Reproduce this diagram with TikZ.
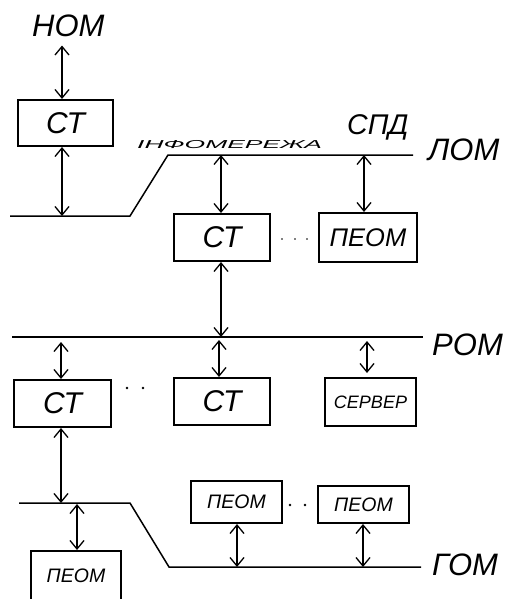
\documentclass[tikz,border=0pt]{standalone}
\usepackage{fontspec}
\setmainfont{Liberation Sans}
\usetikzlibrary{arrows.meta}

\newcommand{\fsz}[1]{\fontsize{#1}{#1}\selectfont}

\begin{document}
\begin{tikzpicture}[
    x=1pt, y=-1pt,
    >={Straight Barb[length=8.5pt,width=14pt]},
    font=\itshape,
    box/.style={draw, line width=2pt, inner sep=0pt},
    bus/.style={line width=1.5pt},
    link/.style={<->, line width=1.3pt},
    lbl/.style={inner sep=0pt, anchor=base west, font=\itshape\fsz{31}}
]
    \useasboundingbox (0,0) rectangle (507,599);

    % Network labels
    \node[lbl] (hom) at (32,37) {НОМ};
    \node[lbl] (lom) at (428,160) {ЛОМ};
    \node[lbl] (rom) at (432,355) {РОМ};
    \node[lbl] (gom) at (432,575) {ГОМ};
    \node[lbl, font=\itshape\fsz{28.5}] (spd) at (347,135) {СПД};
    \node[inner sep=0pt, anchor=base west] (inf) at (137,148)
        {\scalebox{2.3}[1]{\fsz{11.5}ІНФОМЕРЕЖА}};

    % Buses
    \draw[bus] (10,216) -- (130,216) -- (168,155) -- (413,155);
    \draw[bus] (12,337) -- (423,337);
    \draw[bus] (19,503) -- (130,503) -- (169,567) -- (421,567);

    % Bus taps
    \coordinate (lom1) at (62,216);
    \coordinate (lom2) at (221,155);
    \coordinate (lom3) at (364,155);
    \coordinate (rom1) at (61,342);
    \coordinate (rom2) at (221,337);
    \coordinate (rom3) at (219,340);
    \coordinate (rom4) at (367,341);
    \coordinate (gom1) at (61,503);
    \coordinate (gom2) at (77,504);
    \coordinate (gom3) at (237,567);
    \coordinate (gom4) at (363,567);

    % Boxes
    \node[box, minimum width=95pt, minimum height=46pt, font=\itshape\fsz{30}]
        (ct1) at (65.5,123) {СТ};
    \node[box, minimum width=96pt, minimum height=47pt, font=\itshape\fsz{30}]
        (ct2) at (222,237.5) {СТ};
    \node[box, minimum width=98pt, minimum height=49pt, font=\itshape\fsz{25.5}]
        (peom1) at (368,237.5) {ПЕОМ};
    \node[box, minimum width=97pt, minimum height=47pt, font=\itshape\fsz{30}]
        (ct3) at (62.5,403.5) {СТ};
    \node[box, minimum width=96pt, minimum height=47pt, font=\itshape\fsz{30}]
        (ct4) at (222,401.5) {СТ};
    \node[box, minimum width=91pt, minimum height=48pt, font=\itshape\fsz{18}]
        (server) at (370.5,402) {СЕРВЕР};
    \node[box, minimum width=91pt, minimum height=42pt, font=\itshape\fsz{19.5}]
        (peom2) at (236.5,502) {ПЕОМ};
    \node[box, minimum width=91pt, minimum height=37pt, font=\itshape\fsz{19.5}]
        (peom3) at (363.5,504.5) {ПЕОМ};
    \node[box, minimum width=90pt, minimum height=50pt, font=\itshape\fsz{19.5}]
        (peom4) at (76,576) {ПЕОМ};

    % Dots
    \foreach \px in {282,295,307} \fill (\px,239) circle (0.9pt);
    \foreach \px in {127,143} \fill (\px,388) circle (1.4pt);
    \foreach \px in {290,305} \fill (\px,505) circle (1.4pt);

    % Links
    \draw[link, shorten <=8pt] (hom.south -| lom1) -- (ct1.north -| lom1);
    \draw[link] (ct1.south -| lom1) -- (lom1);
    \draw[link] (lom2) -- (ct2.north -| lom2);
    \draw[link] (lom3) -- (peom1.north -| lom3);
    \draw[link] (ct2.south -| rom2) -- (rom2);
    \draw[link] (rom1) -- (ct3.north -| rom1);
    \draw[link] (rom3) -- (ct4.north -| rom3);
    \draw[link, shorten >=4pt] (rom4) -- (server.north -| rom4);
    \draw[link] (ct3.south -| gom1) -- (gom1);
    \draw[link] (gom2) -- (peom4.north -| gom2);
    \draw[link] (peom2.south -| gom3) -- (gom3);
    \draw[link] (peom3.south -| gom4) -- (gom4);

\end{tikzpicture}
\end{document}
